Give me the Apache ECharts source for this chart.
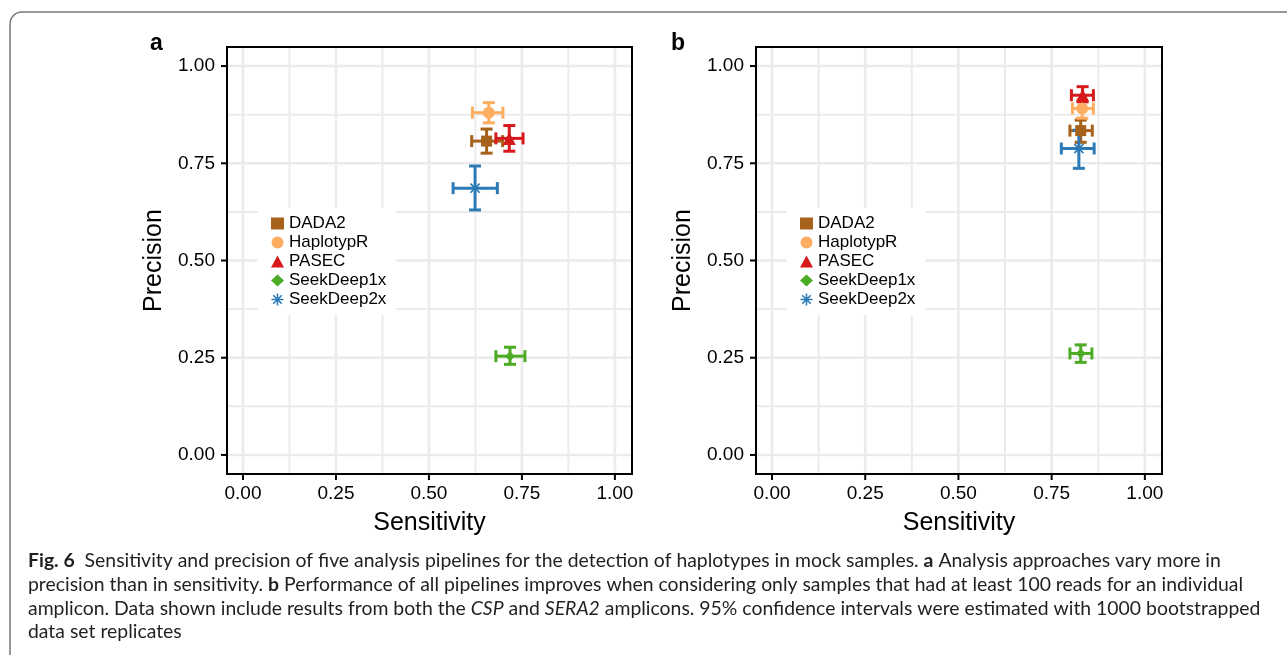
<!DOCTYPE html>
<html><head><meta charset="utf-8">
<script src="https://cdn.jsdelivr.net/npm/echarts@6/dist/echarts.min.js"></script>
<style>html,body{margin:0;padding:0;background:#fff}#c{width:1287px;height:655px}</style>
</head><body><div id="c"></div>
<script>
// ---------- data ----------
const pipelines = ['DADA2', 'HaplotypR', 'PASEC', 'SeekDeep1x', 'SeekDeep2x'];
const tickValues = [0, 0.25, 0.5, 0.75, 1];
const gridValues = [0, 0.125, 0.25, 0.375, 0.5, 0.625, 0.75, 0.875, 1];

// Panel a: all samples
const sensA    = [0.655, 0.661, 0.716, 0.718, 0.624];
const sensA_lo = [0.615, 0.617, 0.680, 0.680, 0.565];
const sensA_hi = [0.698, 0.699, 0.753, 0.758, 0.684];
const precA    = [0.807, 0.880, 0.814, 0.254, 0.686];
const precA_lo = [0.776, 0.854, 0.781, 0.233, 0.630];
const precA_hi = [0.838, 0.906, 0.847, 0.277, 0.743];

// Panel b: samples with >= 100 reads
const sensB    = [0.828, 0.832, 0.833, 0.828, 0.823];
const sensB_lo = [0.799, 0.806, 0.803, 0.799, 0.776];
const sensB_hi = [0.859, 0.862, 0.862, 0.858, 0.864];
const precB    = [0.834, 0.891, 0.925, 0.261, 0.788];
const precB_lo = [0.804, 0.866, 0.908, 0.238, 0.737];
const precB_hi = [0.861, 0.913, 0.947, 0.283, 0.835];

// ---------- styles ----------
const colors = ['#A6611A', '#FDAE61', '#D7191C', '#4DAC26', '#2C7BB6'];
const asterisk = 'path://M-10,-1.3L10,-1.3L10,1.3L-10,1.3Z M-1.3,-10L1.3,-10L1.3,10L-1.3,10Z M-6.15,-7.99L7.99,6.15L6.15,7.99L-7.99,-6.15Z M-7.99,6.15L6.15,-7.99L7.99,-6.15L-6.15,7.99Z';
const symbols = ['rect', 'circle', 'triangle', 'diamond', asterisk];
const symbolSizes = [11, 12, 13, 10, 13];
const FONT = '"Liberation Sans", Arial, sans-serif';

const grids = [
  {left: 227, top: 47, width: 405, height: 427},
  {left: 756, top: 47, width: 406, height: 427}
];

function gridRender(params, api) {
  const cs = params.coordSys;
  const ch = [];
  gridValues.forEach((v, i) => {
    const major = i % 2 === 0;
    const px = api.coord([v, 0])[0];
    const py = api.coord([0, v])[1];
    const st = {stroke: '#EBEBEB', lineWidth: major ? 2.6 : 2};
    ch.push({type: 'line', shape: {x1: px, y1: cs.y, x2: px, y2: cs.y + cs.height}, style: st});
    ch.push({type: 'line', shape: {x1: cs.x, y1: py, x2: cs.x + cs.width, y2: py}, style: st});
  });
  ch.push({type: 'rect', shape: {x: cs.x, y: cs.y, width: cs.width, height: cs.height},
           style: {fill: null, stroke: '#000', lineWidth: 2}});
  return {type: 'group', children: ch};
}

// axis tick marks, one item per tick value (dim 1: 0 = x axis, 1 = y axis)
function tickRender(params, api) {
  const cs = params.coordSys;
  const v = api.value(0);
  const isX = api.value(1) === 0;
  const st = {stroke: '#000', lineWidth: 2};
  if (isX) {
    const px = api.coord([v, 0])[0];
    return {type: 'line', shape: {x1: px, y1: cs.y + cs.height, x2: px, y2: cs.y + cs.height + 6}, style: st};
  }
  const py = api.coord([0, v])[1];
  return {type: 'line', shape: {x1: cs.x - 6, y1: py, x2: cs.x, y2: py}, style: st};
}

function errRender(params, api) {
  const x = api.value(0), y = api.value(1);
  const c = api.coord([x, y]);
  const pxl = api.coord([api.value(2), y])[0], pxh = api.coord([api.value(3), y])[0];
  const pyl = api.coord([x, api.value(4)])[1], pyh = api.coord([x, api.value(5)])[1];
  const cap = 6;
  const st = {stroke: api.visual('color'), lineWidth: 3};
  const L = (x1, y1, x2, y2) => ({type: 'line', shape: {x1, y1, x2, y2}, style: st});
  return {type: 'group', children: [
    L(pxl, c[1], pxh, c[1]), L(pxl, c[1] - cap, pxl, c[1] + cap), L(pxh, c[1] - cap, pxh, c[1] + cap),
    L(c[0], pyl, c[0], pyh), L(c[0] - cap, pyl, c[0] + cap, pyl), L(c[0] - cap, pyh, c[0] + cap, pyh)
  ]};
}

const panels = [
  {s: sensA, sl: sensA_lo, sh: sensA_hi, p: precA, pl: precA_lo, ph: precA_hi},
  {s: sensB, sl: sensB_lo, sh: sensB_hi, p: precB, pl: precB_lo, ph: precB_hi}
];

const series = [];
panels.forEach((pn, gi) => {
  series.push({type: 'custom', silent: true, xAxisIndex: gi, yAxisIndex: gi, z: 1,
    data: [[0, 0]], renderItem: gridRender, clip: false});
  series.push({type: 'custom', silent: true, xAxisIndex: gi, yAxisIndex: gi, z: 5, clip: false,
    encode: {x: -1, y: -1},
    data: tickValues.map(v => [v, 0]).concat(tickValues.map(v => [v, 1])),
    renderItem: tickRender});
  pipelines.forEach((name, k) => {
    series.push({type: 'custom', name, xAxisIndex: gi, yAxisIndex: gi, z: 3,
      itemStyle: {color: colors[k]}, encode: {x: [0, 2, 3], y: [1, 4, 5]},
      data: [[pn.s[k], pn.p[k], pn.sl[k], pn.sh[k], pn.pl[k], pn.ph[k]]],
      renderItem: errRender});
  });
  pipelines.forEach((name, k) => {
    series.push({type: 'scatter', name, xAxisIndex: gi, yAxisIndex: gi, z: 4,
      symbol: symbols[k], symbolSize: symbolSizes[k], itemStyle: {color: colors[k], opacity: 1},
      data: [[pn.s[k], pn.p[k]]]});
  });
});

function axisCommon(gi, name, isX) {
  return {
    type: 'value', gridIndex: gi,
    min: isX ? -0.043 : -0.049, max: isX ? 1.046 : 1.049,
    name, nameLocation: 'middle', nameGap: isX ? 37 : 60,
    nameTextStyle: {fontSize: 25, color: '#000', fontFamily: FONT},
    axisLine: {show: false, onZero: false},
    axisTick: {show: false},
    axisLabel: {customValues: tickValues, formatter: v => v.toFixed(2), fontSize: 19, color: '#000',
      fontFamily: FONT, margin: isX ? 10 : 12},
    splitLine: {show: false}
  };
}

const legendData = pipelines.map((n, k) => ({name: n, icon: symbols[k]}));
const legendBase = {orient: 'vertical', top: 208, padding: [7, 10, 7, 13], backgroundColor: '#fff',
  itemWidth: 13, itemHeight: 12, itemGap: 2, data: legendData, selectedMode: false,
  textStyle: {fontSize: 17, color: '#000', fontFamily: FONT, lineHeight: 17}};

const CF = 'Lato, sans-serif', CS = 19.4;
const captionStyle = {fontFamily: CF, fontSize: CS, fill: '#231F20',
  rich: {b: {fontWeight: 'bold', fontFamily: CF, fontSize: CS, fill: '#231F20'},
         i: {fontStyle: 'italic', fontFamily: CF, fontSize: CS, fill: '#231F20'}}};
const captionLines = [
  '{b|Fig. 6}  Sensitivity and precision of five analysis pipelines for the detection of haplotypes in mock samples. {b|a} Analysis approaches vary more in',
  'precision than in sensitivity. {b|b} Performance of all pipelines improves when considering only samples that had at least 100 reads for an individual',
  'amplicon. Data shown include results from both the {i|CSP} and {i|SERA2} amplicons. 95% confidence intervals were estimated with 1000 bootstrapped',
  'data set replicates'
];

const graphic = [
  {type: 'rect', shape: {x: 10, y: 12, width: 1400, height: 800, r: 12}, style: {fill: null, stroke: '#777', lineWidth: 1.5}, z: -10},
  {type: 'text', x: 150, y: 32, style: {text: 'a', font: 'bold 23px ' + FONT, fill: '#000'}},
  {type: 'text', x: 671, y: 32, style: {text: 'b', font: 'bold 23px ' + FONT, fill: '#000'}}
];
captionLines.forEach((t, i) => {
  graphic.push({type: 'text', x: 28, y: 561 + 23.7 * i, style: Object.assign({text: t, verticalAlign: 'middle'}, captionStyle)});
});

const chart = echarts.init(document.getElementById('c'));
chart.setOption({
  animation: false,
  backgroundColor: '#fff',
  grid: grids,
  xAxis: [axisCommon(0, 'Sensitivity', true), axisCommon(1, 'Sensitivity', true)],
  yAxis: [axisCommon(0, 'Precision', false), axisCommon(1, 'Precision', false)],
  legend: [Object.assign({left: 258}, legendBase), Object.assign({left: 787}, legendBase)],
  series,
  graphic
});
</script></body></html>
